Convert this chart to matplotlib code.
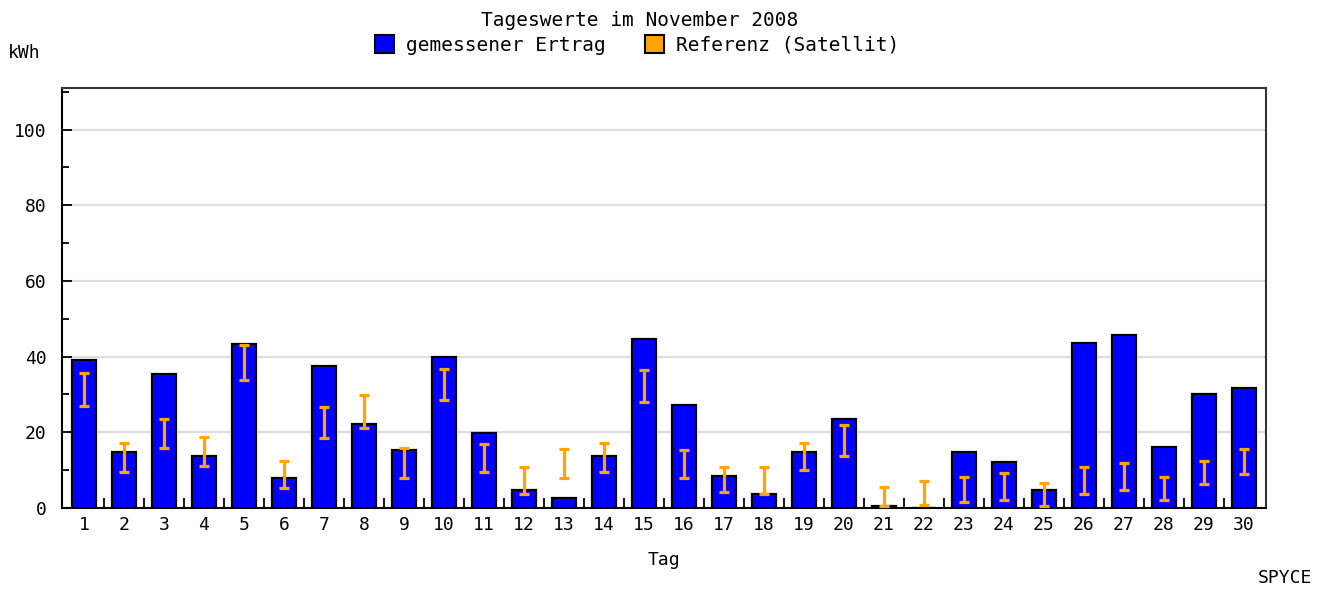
import matplotlib
matplotlib.use("Agg")
import matplotlib.pyplot as plt
from matplotlib.patches import Patch
import numpy as np

days = list(range(1, 31))
measured = [39.0, 14.7, 35.4, 13.8, 43.3, 7.8, 37.4, 22.1, 15.3, 39.9,
            19.9, 4.7, 2.6, 13.8, 44.7, 27.3, 8.5, 3.7, 14.7, 23.6,
            0.5, 0.0, 14.7, 12.1, 4.7, 43.7, 45.8, 16.2, 30.0, 31.6]
ref_low = [27.0, 9.6, 15.9, 11.2, 33.8, 5.4, 18.5, 21.1, 7.9, 28.5,
           9.5, 3.8, 8.0, 9.5, 28.0, 7.9, 4.3, 3.8, 10.1, 13.8,
           0.4, 0.7, 1.7, 2.2, 0.6, 3.8, 4.8, 2.1, 6.3, 9.0]
ref_high = [35.6, 17.2, 23.5, 18.8, 43.1, 12.5, 26.7, 29.9, 15.8, 36.7,
            16.8, 10.9, 15.7, 17.2, 36.6, 15.2, 10.9, 10.9, 17.2, 21.9,
            5.6, 7.2, 8.3, 9.3, 6.7, 10.9, 12.0, 8.3, 12.5, 15.7]

title = "Tageswerte im November 2008"
label_measured = "gemessener Ertrag"
label_ref = "Referenz (Satellit)"

plt.rcParams['font.family'] = ['DejaVu Sans Mono']

fig = plt.figure(figsize=(13.29, 5.91), dpi=100)
ax = fig.add_axes([62/1329, 1 - 508/591, (1266-62)/1329, (508-88)/591])

x = np.array(days)
ax.bar(x, measured, width=0.6, color='#0000FF', edgecolor='black', linewidth=1.6, zorder=3)
lo = np.array(ref_low); hi = np.array(ref_high)
ax.errorbar(x, (lo + hi) / 2, yerr=(hi - lo) / 2, fmt='none', ecolor='#FFA500',
            elinewidth=2.3, capsize=3.6, capthick=2.3, zorder=4)

ax.set_xlim(0.45, 30.55)
ax.set_ylim(0, 111)
ax.set_xticks(x)
ax.set_xticklabels([str(d) for d in days], fontsize=13)
ax.set_xticks(np.arange(1.5, 30, 1), minor=True)
ax.tick_params(axis='x', which='major', length=0, pad=6)
ax.tick_params(axis='x', which='minor', direction='in', length=7, width=1.3)
ax.set_yticks(range(0, 101, 20))
ax.set_yticklabels([str(v) for v in range(0, 101, 20)], fontsize=13)
ax.set_yticks(range(10, 111, 20), minor=True)
ax.tick_params(axis='y', which='major', direction='in', length=7.5, width=1.3, pad=11)
ax.tick_params(axis='y', which='minor', direction='in', length=5, width=1.3)
ax.grid(axis='y', which='major', color='#dddddd', linewidth=1.5, zorder=0)
ax.set_axisbelow(True)
for s in ax.spines.values():
    s.set_linewidth(1.5)
    s.set_color('black')
ax.spines['top'].set_color('#333333')
ax.spines['right'].set_color('#333333')

ax.set_xlabel("Tag", fontsize=13, labelpad=12)

fig.text(640/1329, 1 - 20/591, title, ha='center', va='center', fontsize=14)
fig.text(8/1329, 1 - 53/591, "kWh", ha='left', va='center', fontsize=13)
fig.text(1312/1329, 1 - 578/591, "SPYCE", ha='right', va='center', fontsize=13)

handles = [Patch(facecolor='#0000FF', edgecolor='black', linewidth=1.5),
           Patch(facecolor='#FFA500', edgecolor='black', linewidth=1.5)]
fig.legend(handles, [label_measured, label_ref], loc='center', ncol=2,
           bbox_to_anchor=(637/1329, 1 - 45/591), frameon=False, fontsize=14,
           handlelength=1.0, handleheight=1.0, handletextpad=0.6, columnspacing=2.0)

fig.savefig("out.png", dpi=100, facecolor='white')
